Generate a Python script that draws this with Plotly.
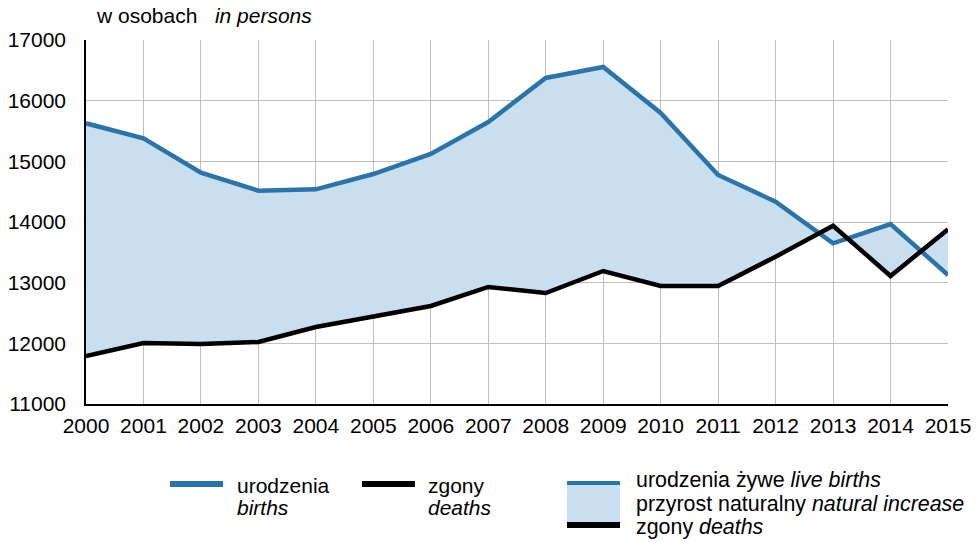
import plotly.graph_objects as go

# ── Data ───────────────────────────────────────────────────────────────────────
years = list(range(2000, 2016))
births = [15627, 15380, 14813, 14516, 14539, 14791, 15121, 15648,
          16374, 16555, 15797, 14775, 14335, 13649, 13967, 13127]
deaths = [11792, 12006, 11990, 12022, 12270, 12434, 12616, 12929,
          12830, 13192, 12945, 12945, 13428, 13939, 13110, 13879]
y_ticks = [11000, 12000, 13000, 14000, 15000, 16000, 17000]

BLUE = "#2C73A8"
FILL = "#C9DFF0"
FONT = "Liberation Sans, Arial, sans-serif"

# the page body has an 8px margin, so the figure is drawn 8px smaller
OFF = 8
W, H = 979 - OFF, 542 - OFF
L, R, T, B = 86 - OFF, 948 - OFF, 40 - OFF, 404 - OFF   # plot area in pixels


def px(x):
    return (x - OFF - L) / (R - L)


def py(y):
    return (B - (y - OFF)) / (B - T)


fig = go.Figure()

# fill between deaths and births
fig.add_trace(go.Scatter(x=years, y=deaths, mode="lines",
                         line=dict(width=0, color=FILL), hoverinfo="skip",
                         showlegend=False))
fig.add_trace(go.Scatter(x=years, y=births, mode="lines", fill="tonexty",
                         fillcolor=FILL, line=dict(color=BLUE, width=4.5),
                         name="urodzenia", showlegend=False))
fig.add_trace(go.Scatter(x=years, y=deaths, mode="lines",
                         line=dict(color="black", width=4.5),
                         name="zgony", showlegend=False))

fig.update_xaxes(
    range=[2000, 2015], tickvals=years, ticktext=[str(y) for y in years],
    showgrid=True, gridcolor="#BFBFBF", gridwidth=1.3,
    showline=True, linecolor="black", linewidth=1.5,
    zeroline=False, tickfont=dict(size=21, color="black"),
    ticklabelstandoff=2, automargin=False,
)
fig.update_yaxes(
    range=[11000, 17000], tickvals=y_ticks,
    ticktext=[str(v) for v in y_ticks],
    showgrid=True, gridcolor="#BFBFBF", gridwidth=1.3,
    showline=True, linecolor="black", linewidth=1.5,
    zeroline=False, tickfont=dict(size=21, color="black"),
    ticklabelstandoff=14, automargin=False,
)

shapes = []
annotations = []

# top title
annotations.append(dict(x=px(94), y=py(15), xref="paper", yref="paper",
                        xanchor="left", yanchor="middle", showarrow=False,
                        text="w osobach   <i>in persons</i>",
                        font=dict(size=21, color="black")))

# ── Legend (drawn by hand) ─────────────────────────────────────────────────────
def rect(x0, y0, x1, y1, color):
    shapes.append(dict(type="rect", xref="paper", yref="paper",
                       x0=px(x0), x1=px(x1), y0=py(y1), y1=py(y0),
                       fillcolor=color, line=dict(width=0), layer="above"))


def label(x, y, text, size=21):
    annotations.append(dict(x=px(x), y=py(y), xref="paper", yref="paper",
                            xanchor="left", yanchor="middle", showarrow=False,
                            text=text, font=dict(size=size, color="black")))


rect(170, 481, 223, 487, BLUE)
label(235, 485, "urodzenia")
label(235, 508, "<i>births</i>")

rect(362, 481, 415, 487, "black")
label(426, 485, "zgony")
label(426, 508, "<i>deaths</i>")

rect(567, 485, 620, 523, FILL)
rect(567, 481, 620, 485, BLUE)
rect(567, 522, 620, 528, "black")
label(634, 480, "urodzenia żywe <i>live births</i>", 21.4)
label(634, 504, "przyrost naturalny <i>natural increase</i>", 21.4)
label(634, 527, "zgony <i>deaths</i>", 21.4)

fig.update_layout(
    width=W, height=H,
    margin=dict(l=L, r=W - R, t=T, b=H - B),
    paper_bgcolor="white", plot_bgcolor="white",
    font=dict(family=FONT, size=21, color="black"),
    shapes=shapes, annotations=annotations,
    showlegend=False,
)

fig.write_html("out.html")
